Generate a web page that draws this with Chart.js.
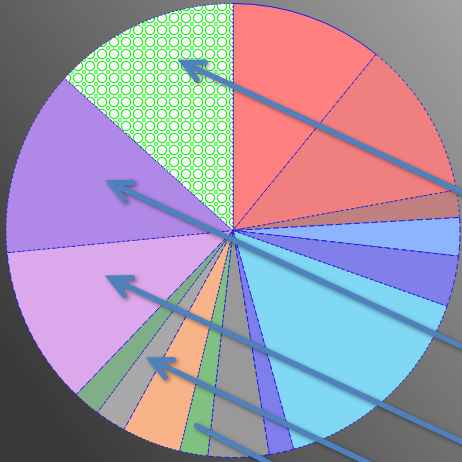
<!DOCTYPE html>
<html>
<head>
<meta charset="utf-8">
<script src="https://cdn.jsdelivr.net/npm/chart.js@4.4.0/dist/chart.umd.min.js"></script>
<style>
  html, body { margin: 0; padding: 0; background: #555; }
  #wrap { width: 462px; height: 462px; }
</style>
</head>
<body>
<div id="wrap"><canvas id="pieChart"></canvas></div>
<script>
const labels = ["A", "B", "C", "D", "E", "F", "G", "H", "I", "J", "K", "L", "M", "N", "O"];
const values = [39.1, 40.6, 7.0, 9.8, 13.0, 55.0, 6.3, 15.6, 7.2, 15.1, 8.0, 7.0, 40.7, 47.7, 47.9];
const colors = ["#ff8080", "#f08080", "#c08080", "#8cb4ff", "#8080e8", "#80d8f4", "#7f7fec",
  "#999999", "#80c080", "#f8b488", "#a8a8a8", "#80ae88", "#dca8ec", "#b088e8", "pattern"];
const dashes = [[], [3, 3], [2, 3], [6, 3], [5, 3], [3, 2], [4, 3], [5, 3], [3, 2], [2, 2],
  [4, 3], [2, 2], [6, 3], [2, 3], [2, 2]];

// arrows: tail -> tip, in units of pie radius from the pie centre
const arrows = [
  { from: [1.05, -0.15], to: [-0.22, -0.74], head: true },
  { from: [1.05, 0.53], to: [-0.54, -0.21], head: true },
  { from: [1.05, 0.95], to: [-0.54, 0.21], head: true },
  { from: [0.65, 1.05], to: [-0.36, 0.57], head: true },
  { from: [0.21, 1.05], to: [-0.16, 0.86], head: false },
];

function makePattern() {
  const c = document.createElement("canvas");
  c.width = 12; c.height = 12;
  const g = c.getContext("2d");
  g.fillStyle = "#ffffff";
  g.fillRect(0, 0, 12, 12);
  g.strokeStyle = "#22ee22";
  g.lineWidth = 1.4;
  g.beginPath(); g.arc(6, 6, 4.6, 0, Math.PI * 2); g.stroke();
  g.lineWidth = 1;
  [[0, 0], [12, 0], [0, 12], [12, 12]].forEach(([x, y]) => {
    g.beginPath(); g.arc(x, y, 1.6, 0, Math.PI * 2); g.stroke();
  });
  return g.createPattern(c, "repeat");
}

const bgPlugin = {
  id: "bg",
  beforeDraw(chart) {
    const ctx = chart.ctx;
    const grad = ctx.createLinearGradient(0, 340, chart.width, 0);
    grad.addColorStop(0, "#3a3a3a");
    grad.addColorStop(1, "#a2a2a2");
    ctx.save();
    ctx.fillStyle = grad;
    ctx.fillRect(0, 0, chart.width, chart.height);
    ctx.restore();
  },
};

const arrowPlugin = {
  id: "arrows",
  afterDraw(chart) {
    const arc = chart.getDatasetMeta(0).data[0];
    const cx = arc.x, cy = arc.y, r = arc.outerRadius;
    const ctx = chart.ctx;
    ctx.save();
    ctx.strokeStyle = "#4f81bd";
    ctx.lineWidth = 5.5;
    ctx.lineCap = "round";
    ctx.shadowColor = "rgba(0,0,0,0.45)";
    ctx.shadowBlur = 4;
    ctx.shadowOffsetX = 2;
    ctx.shadowOffsetY = 2;
    arrows.forEach((a) => {
      const x1 = cx + a.from[0] * r, y1 = cy + a.from[1] * r;
      const x2 = cx + a.to[0] * r, y2 = cy + a.to[1] * r;
      ctx.beginPath();
      ctx.moveTo(x1, y1);
      ctx.lineTo(x2, y2);
      if (a.head) {
        const ang = Math.atan2(y1 - y2, x1 - x2);
        const len = 22, spread = 0.45;
        ctx.moveTo(x2 + len * Math.cos(ang - spread), y2 + len * Math.sin(ang - spread));
        ctx.lineTo(x2, y2);
        ctx.lineTo(x2 + len * Math.cos(ang + spread), y2 + len * Math.sin(ang + spread));
      }
      ctx.stroke();
    });
    ctx.restore();
  },
};

const pattern = makePattern();

new Chart(document.getElementById("pieChart"), {
  type: "pie",
  data: {
    labels: labels,
    datasets: [
      {
        data: values,
        backgroundColor: colors.map((c) => (c === "pattern" ? pattern : c)),
        borderColor: "#1a1aee",
        borderWidth: 1,
        borderDash: (ctx) => dashes[ctx.dataIndex] || [],
      },
    ],
  },
  options: {
    responsive: true,
    maintainAspectRatio: false,
    animation: false,
    layout: { padding: { left: 5, right: 1, top: 3, bottom: 4 } },
    plugins: { legend: { display: false }, tooltip: { enabled: false } },
  },
  plugins: [bgPlugin, arrowPlugin],
});
</script>
</body>
</html>
